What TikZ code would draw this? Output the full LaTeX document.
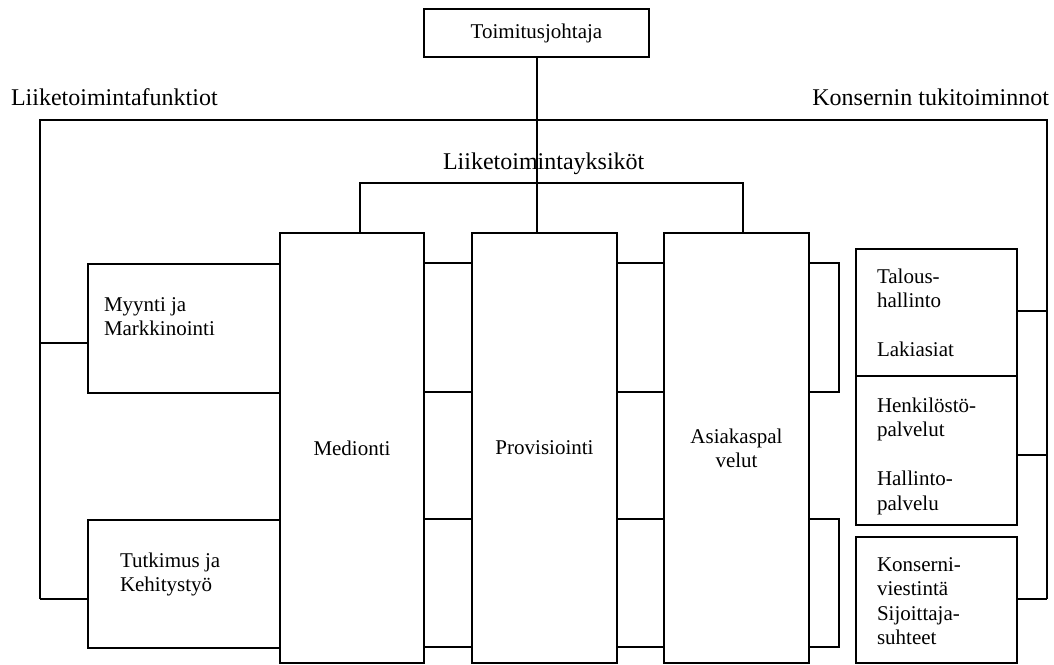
\documentclass[tikz,border=0pt]{standalone}
\usepackage{fontspec}
\setmainfont{Liberation Serif}
\newcommand{\mylines}[1]{\begin{tabular}[t]{@{}l@{}}#1\end{tabular}}
\begin{document}
\begin{tikzpicture}[x=1pt,y=-1pt,line width=2pt,
  box/.style={draw,line width=2pt,inner sep=0pt,anchor=north west,align=center,
    font=\fontsize{21}{24}\selectfont},
  lbl/.style={inner sep=0pt,font=\fontsize{21}{24.5}\selectfont,anchor=base west},
  head/.style={inner sep=0pt,font=\fontsize{24}{28}\selectfont,anchor=base west}]
\path[use as bounding box] (0,0) rectangle (1054,664);
% boxes
\node[box,minimum width=225pt,minimum height=48pt] (tj) at (423,8) {Toimitusjohtaja};
\node[box,minimum width=144pt,minimum height=430pt] (med) at (279,232) {Medionti};
\node[box,minimum width=145pt,minimum height=430pt] (prov) at (471,232) {Provisiointi};
\node[box,minimum width=145pt,minimum height=430pt] (asi) at (663,232) {Asiakaspal\\velut};
\node[box,minimum width=192pt,minimum height=129pt] (myy) at (87,263) {};
\node[box,minimum width=192pt,minimum height=128pt] (tut) at (87,519) {};
\node[box,minimum width=161pt,minimum height=127pt] (r1) at (855,248) {};
\node[box,minimum width=161pt,minimum height=149pt] (r2) at (855,375) {};
\node[box,minimum width=161pt,minimum height=126pt] (r3) at (855,536) {};
% texts
\node[head] (lf) at (10,105) {Liiketoimintafunktiot};
\node[head,anchor=base east] (kt) at (1050,105) {Konsernin tukitoiminnot};
\node[head] (ly) at (442,169) {Liiketoimintayksiköt};
\node[lbl] (myyt) at (103,311) {\mylines{Myynti ja\\Markkinointi}};
\node[lbl] (tutt) at (119,567) {\mylines{Tutkimus ja\\Kehitystyö}};
\node[lbl] (r1t) at (876,283) {\mylines{Talous-\\hallinto\\ \\Lakiasiat}};
\node[lbl] (r2t) at (876,412) {\mylines{Henkilöstö-\\palvelut\\ \\Hallinto-\\palvelu}};
\node[lbl] (r3t) at (876,571) {\mylines{Konserni-\\viestintä\\Sijoittaja-\\suhteet}};
% connectors
\draw (tj.south) -- (tj.south |- prov.north);
\coordinate (a) at (360,183);
\coordinate (b) at (743,183);
\draw (a |- med.north) -- (a) -- (b) -- (b |- asi.north);
\coordinate (L0) at (40,120);
\coordinate (L1) at (40,343);
\coordinate (L2) at (40,599);
\coordinate (R0) at (1047,120);
\coordinate (R1) at (1047,311);
\coordinate (R2) at (1047,455);
\coordinate (R3) at (1047,599);
\draw (L2) -- (L0) -- (R0) -- (R3);
\draw (L1) -- (L1 -| myy.west);
\draw (L2) -- (L2 -| tut.west);
\draw (R1) -- (R1 -| r1.east);
\draw (R2) -- (R2 -| r2.east);
\draw (R3) -- (R3 -| r3.east);
\foreach \yy in {263,392,519,647}{
  \coordinate (h) at (0,\yy);
  \draw (med.east |- h) -- (prov.west |- h);
  \draw (prov.east |- h) -- (asi.west |- h);
}
\coordinate (B1) at (839,263);
\coordinate (B2) at (839,392);
\coordinate (B3) at (839,519);
\coordinate (B4) at (839,647);
\draw (B1 -| asi.east) -- (B1) -- (B2) -- (B2 -| asi.east);
\draw (B3 -| asi.east) -- (B3) -- (B4) -- (B4 -| asi.east);
\end{tikzpicture}
\end{document}
